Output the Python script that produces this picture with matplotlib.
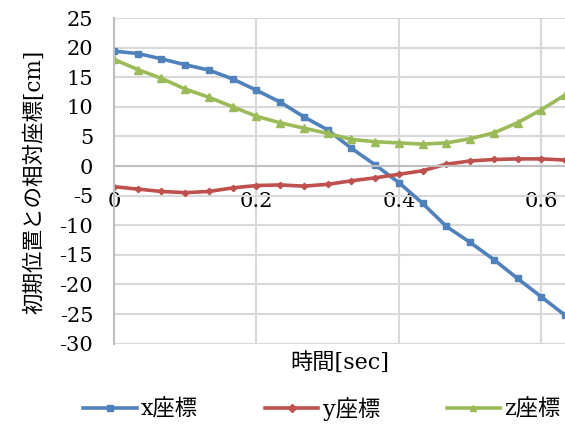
import matplotlib
matplotlib.use("Agg")
import matplotlib.pyplot as plt
import numpy as np

plt.rcParams['font.family'] = ['DejaVu Serif', 'Noto Sans CJK JP']
plt.rcParams['axes.unicode_minus'] = False

time = [i / 30 for i in range(20)]
x_coord = [19.4, 19.0, 18.1, 17.1, 16.2, 14.7, 12.8, 10.8, 8.3, 6.1,
           3.0, 0.2, -2.8, -6.3, -10.2, -12.9, -15.8, -19.0, -22.1, -25.2]
y_coord = [-3.5, -3.9, -4.3, -4.5, -4.3, -3.7, -3.3, -3.2, -3.4, -3.1,
           -2.5, -2.0, -1.4, -0.8, 0.3, 0.85, 1.1, 1.2, 1.2, 1.0]
z_coord = [18.0, 16.3, 14.8, 13.0, 11.6, 10.0, 8.4, 7.3, 6.4, 5.5,
           4.5, 4.1, 3.9, 3.7, 3.9, 4.6, 5.6, 7.3, 9.5, 12.0]

series_labels = ['x座標', 'y座標', 'z座標']
xticks = [0, 0.2, 0.4, 0.6]
xtick_labels = ['0', '0.2', '0.4', '0.6']
yticks = list(range(-30, 30, 5))

fig = plt.figure(figsize=(5.65, 4.25), dpi=100)
ax = fig.add_axes([114/565, 1-343.6/425, 1-114/565, (343.6-18)/425])

grid_c = '#d9d9d9'
ax.set_xlim(0, 19/30)
ax.set_ylim(-30, 25)
ax.set_xticks(xticks)
ax.set_xticklabels(xtick_labels)
ax.set_yticks(yticks)
ax.grid(True, color=grid_c, linewidth=1.5)
ax.set_axisbelow(True)
for s in ['top', 'right']:
    ax.spines[s].set_visible(False)
ax.spines['left'].set_color('#bfbfbf')
ax.spines['left'].set_linewidth(1.5)
ax.spines['bottom'].set_position(('data', 0))
ax.spines['bottom'].set_color('#bfbfbf')
ax.spines['bottom'].set_linewidth(1.5)
ax.tick_params(axis='both', length=0, labelsize=15, colors='black')
ax.tick_params(axis='x', pad=19)
ax.tick_params(axis='y', pad=15)

ax.plot(time, x_coord, color='#4F81BD', lw=2.6, marker='s', ms=5, label=series_labels[0], clip_on=True)
ax.plot(time, y_coord, color='#C0504D', lw=2.6, marker='D', ms=3.2, label=series_labels[1], clip_on=True)
ax.plot(time, z_coord, color='#9BBB59', lw=2.6, marker='^', ms=5.5, label=series_labels[2], clip_on=True)

fig.text(340/565, 1-363/425, '時間[sec]', ha='center', va='center', fontsize=16)
fig.text(34/565, 1-182/425, '初期位置との相対座標[cm]', ha='center', va='center', rotation=90, fontsize=15.5)

leg = fig.legend(loc='center', bbox_to_anchor=(322/565, 1-409/425), ncol=3, frameon=False,
                 fontsize=16, handlelength=2.4, columnspacing=3.0, handletextpad=0.2,
                 borderaxespad=0, borderpad=0)
for h in leg.legend_handles:
    h.set_markersize(4)

fig.savefig('out.png', dpi=100)
